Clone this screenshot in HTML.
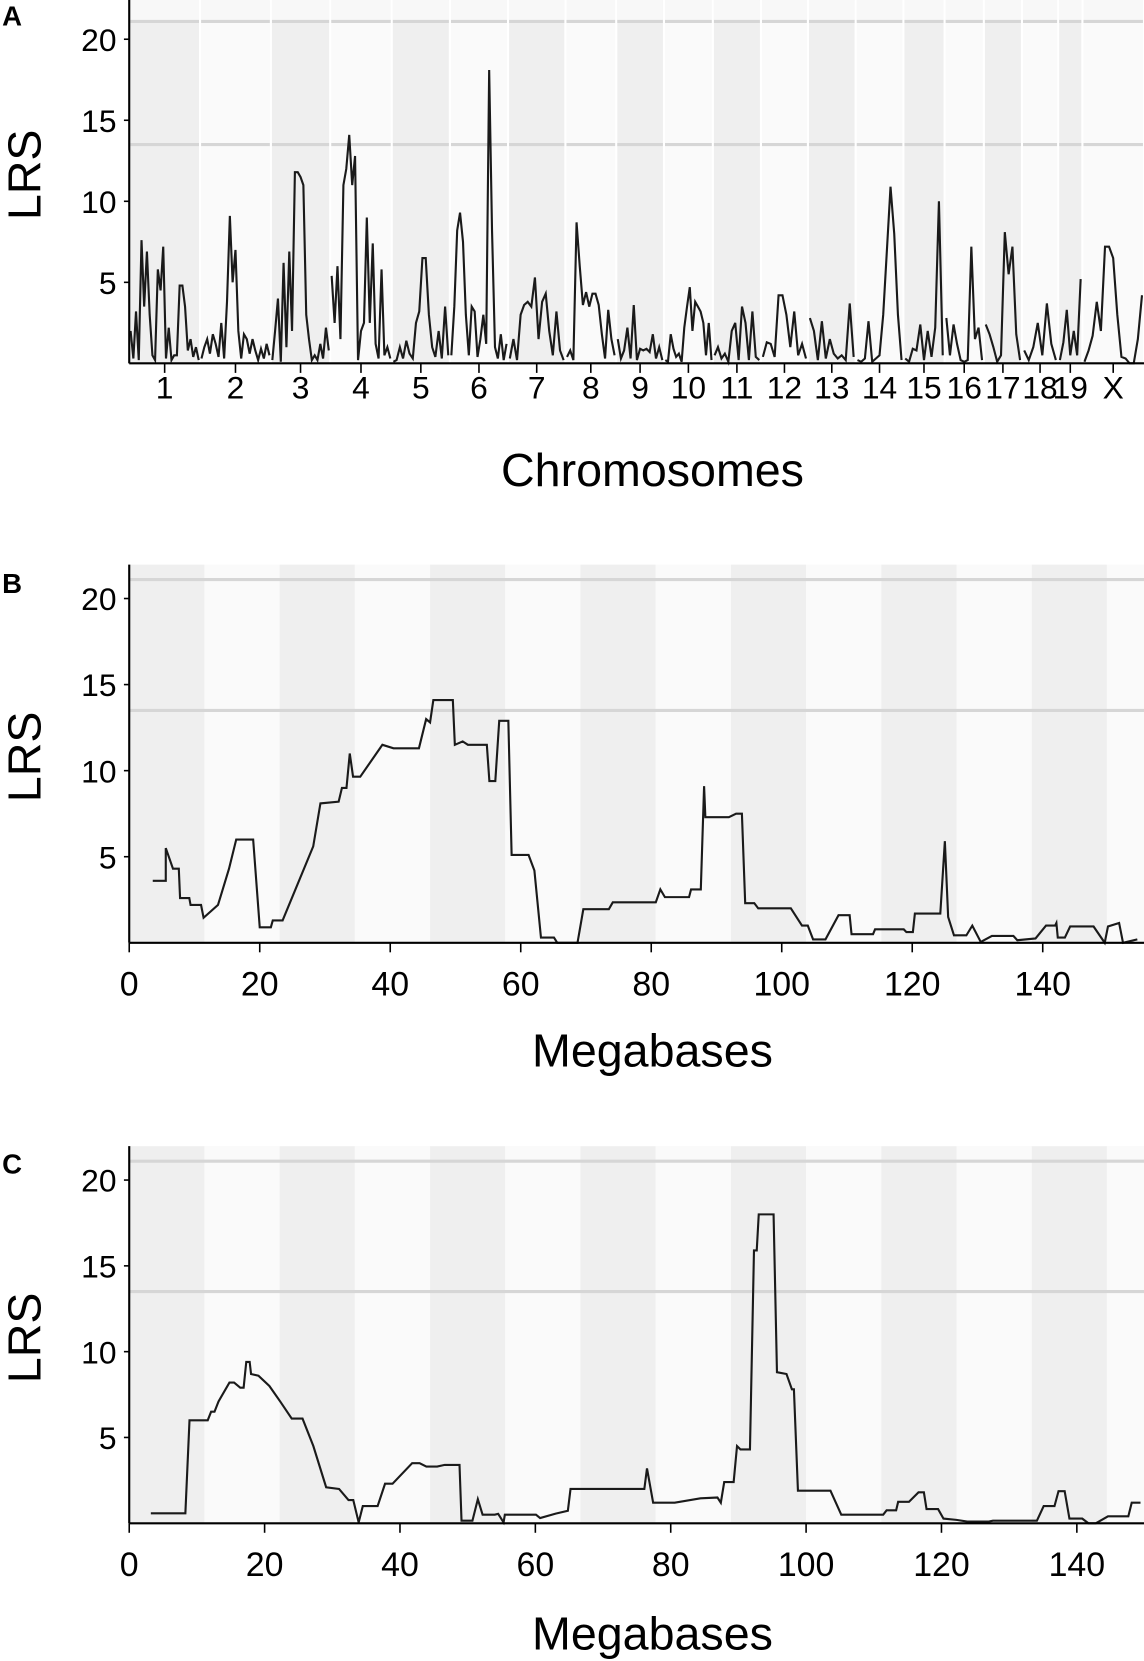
<!DOCTYPE html>
<html><head><meta charset="utf-8"><title>LRS scans</title>
<style>html,body{margin:0;padding:0;background:#fff;}svg{display:block;font-family:"Liberation Sans",Arial,sans-serif;}
.tk{font-family:"Liberation Sans Narrow","Liberation Sans",Arial,sans-serif;}</style>
</head><body>
<svg id="fig" width="1144" height="1661" viewBox="0 0 1080 1568" xmlns="http://www.w3.org/2000/svg"></svg>
<script>
// ---------- Panel A data ----------
const chrLabels = ["1","2","3","4","5","6","7","8","9","10","11","12","13","14","15","16","17","18","19","X"];
const chrLengths = [184,184,154,160,151,151,149,132,124,127,125,122,124,124,107,102,99,94,63,160];
const lrsA = [
 [2,0.3,3.2,0.2,7.6,3.5,6.9,3,0.5,0.2,5.8,4.5,7.2,0.3,2.2,0.2,0.5,0.5,4.8,4.8,3.5,0.8,1.5,0.4,1,0.2],
 [0.3,1,1.5,0.6,1.8,1.2,0.4,2.5,0.3,3.8,9.1,5,7,2,0.3,1.8,1.5,0.6,1.5,0.8,0.2,0.9,0.3,1.2,0.5],
 [0.2,2,4,0.1,6.2,1,6.9,2,11.8,11.8,11.5,11,3,1.5,0.2,0.5,0.2,1.2,0.3,2.2,0.8],
 [5.4,2.5,6,1.5,11,12,14.1,11,12.8,0.2,2,2.5,9,2.5,7.4,1.2,0.3,5.8,0.5,1,0.3],
 [0.1,0.2,1,0.3,1.4,0.6,0.3,2.5,3.2,6.5,6.5,3,1,0.4,2,0.3,3.5,0.5],
 [0.5,3.5,8.2,9.3,7.5,3,0.5,3.5,3.2,0.4,1.5,3,1.2,18.1,8.2,1,0.3,1.8,0.2,1.2],
 [0.3,1.5,0.2,3,3.6,3.8,3.5,5.3,1.5,3.8,4.3,2,0.5,3.2,0.8,0.2],
 [0.4,0.8,0.2,8.7,6,3.6,4.4,3.5,4.3,4.3,3.6,1.8,0.3,3.3,1.5,0.5],
 [1.5,0.3,0.8,2.2,0.3,3.6,0.2,0.9,0.8,0.9,0.7,1.8,0.3,1,0.2],
 [0.2,0.1,1.8,0.9,0.4,0.6,0.1,2.2,3.5,4.7,2,3.8,3.5,3.2,2.5,0.5,2.5,0.2],
 [0.5,1,0.3,0.6,0.1,2,2.5,0.2,3.5,2.5,0.2,3.2,0.4,0.2],
 [0.4,1.3,1.2,0.4,4.2,4.2,3,1,3.2,0.5,1.2,0.3],
 [2.8,2,0.2,2.6,0.3,1.5,0.6,0.3,0.5,0.2,3.7,0.4],
 [0.2,0.1,0.3,2.6,0.1,0.3,0.5,3,7,10.9,8,3,0.2],
 [0.3,0.1,0.9,0.8,2.4,0.2,2,0.4,2.2,10,0.5],
 [2.8,0.5,2.4,1.2,0.2,0.1,0.2,7.2,1.5,2.2,0.2],
 [2.4,1.8,1,0.1,0.5,8.1,5.5,7.2,1.8,0.2],
 [0.8,0.2,1,2.5,0.5,3.7,1.2,0.2],
 [0.2,1.3,3.3,0.5,2,0.5,5.2],
 [0.1,0.8,1.7,3.8,2,7.2,7.2,6.5,3,0.4,0.3,0,0,1.5,4.2]
];
// ---------- Panel B data ----------
const mbB = [3.6,5.6,5.6,6.7,7.6,7.8,9.2,9.4,11,11.4,13.6,15.3,16.4,19,20,21.7,22,23.5,28.2,29.3,32.1,32.6,33.3,33.8,34.3,35.4,38.8,40.5,44.4,45.5,46.1,46.6,49.6,49.9,51.1,51.9,54.8,55.2,56.1,56.7,58.1,58.6,61.2,62.1,63.1,65.1,65.6,68.7,69.6,73.5,74.1,80.7,81.4,82.1,85.8,86.1,87.6,88.1,88.3,91.9,93,93.9,94.4,95.8,96.4,101.4,103.1,104,104.8,106.7,108.7,110.4,110.7,114,114.3,118.7,119.1,120.1,120.4,124.3,125,125.5,126.4,128.3,129.2,130.5,132.2,135.5,136.1,138.9,140.5,141.9,142.1,142.3,143.4,144.2,147.8,149.5,150,151.7,152.3,154.5];
const lrsB = [3.6,3.6,5.5,4.3,4.3,2.6,2.6,2.2,2.2,1.45,2.2,4.3,6,6,0.9,0.9,1.3,1.3,5.6,8.1,8.2,9,9,11,9.65,9.65,11.5,11.3,11.3,13,12.8,14.1,14.1,11.5,11.7,11.5,11.5,9.4,9.4,12.9,12.9,5.1,5.1,4.2,0.3,0.3,0,0,1.95,1.95,2.35,2.35,3.1,2.65,2.65,3.1,3.1,9.1,7.3,7.3,7.5,7.5,2.3,2.3,2.0,2.0,1,1,0.2,0.2,1.6,1.6,0.5,0.5,0.78,0.78,0.62,0.62,1.7,1.7,5.9,1.5,0.43,0.43,1,0.05,0.4,0.4,0.15,0.25,1,1,1.15,0.3,0.3,0.95,0.95,0,0.95,1.15,0,0.2];
// ---------- Panel C data ----------
const mbC = [3.2,8.3,8.9,11.6,12.1,12.6,13.2,14.8,15.5,16.4,16.9,17.3,17.8,18,19.1,20.7,22.3,24,25.6,27.2,29.1,31,32.4,33.1,33.9,34.5,36.7,37.8,38.9,41.8,42.9,43.9,45.5,46.6,48.8,49.1,50.7,51.5,52.2,54,54.5,55.3,55.5,60.1,60.7,63,64.8,65.2,76.1,76.5,77.4,80.6,84.4,86.9,87.4,87.9,89.3,89.8,90.3,91.7,92.3,92.7,93,95.2,95.7,97.1,97.9,98.2,98.8,103.6,105.2,111.4,111.9,113.3,113.6,115.2,116.6,117.4,117.8,119.5,120.3,122.2,123.8,127,127.6,134.1,135.1,136.7,137.3,138.2,138.9,140.8,141.7,142.8,144.6,147.6,148.1,149.4];
const lrsC = [0.58,0.58,6,6,6.5,6.5,7.1,8.2,8.2,7.9,7.9,9.4,9.4,8.7,8.6,8,7.1,6.1,6.1,4.5,2.1,2,1.35,1.35,0.05,1,1,2.3,2.3,3.5,3.5,3.3,3.3,3.4,3.4,0.15,0.15,1.4,0.5,0.5,0.55,0.05,0.5,0.5,0.3,0.56,0.73,2,2,3.2,1.2,1.2,1.45,1.5,1.2,2.4,2.4,4.5,4.3,4.3,15.9,15.9,18,18,8.8,8.7,7.8,7.8,1.9,1.9,0.5,0.5,0.75,0.75,1.25,1.25,1.8,1.8,0.83,0.83,0.27,0.2,0.1,0.1,0.15,0.15,1,1,1.87,1.87,0.27,0.27,0,0,0.4,0.4,1.2,1.2];
const yTicks = [5,10,15,20];
const xTicksMb = [0,20,40,60,80,100,120,140];
const thresholds = [13.5,21.1];

const NS = "http://www.w3.org/2000/svg";
const svg = document.getElementById("fig");
function el(tag, attrs, parent, text){
  const e = document.createElementNS(NS, tag);
  for (const k in attrs) e.setAttribute(k, attrs[k]);
  if (text !== undefined) e.textContent = text;
  (parent||svg).appendChild(e);
  return e;
}
const DARK = "#efefef", LIGHT = "#fafafa", THR = "#d6d6d6";
const X0 = 122, X1 = 1080;

function yAxis(g, yScale, top, bottom){
  const ax = el("g", {}, g);
  
  
  el("line", {x1:X0, y1:top, x2:X0, y2:bottom, stroke:"#000", "stroke-width":2}, ax);
  yTicks.forEach(v=>{
    const y = yScale(v);
    el("line", {x1:X0-5, y1:y, x2:X0, y2:y, stroke:"#000", "stroke-width":1.5}, ax);
    const t = el("text", {x:X0-12, y:y+11, "text-anchor":"end", "font-size":30, class:"tk"}, ax, String(v));
    
    
  });
}
function titles(g, letter, letterY, lrsY, xTitle, xTitleY){
  const l = el("text", {x:2, y:letterY, "font-size":26, "font-weight":"bold"}, g, letter);
  
  
  const yt = el("text", {x:0, y:0, "font-size":44, "text-anchor":"middle", transform:`translate(38,${lrsY}) rotate(-90)`}, g, "LRS");
  
  
  const xt = el("text", {x:616, y:xTitleY, "font-size":44, "text-anchor":"middle"}, g, xTitle);
  
  
}

// ---------- Panel A ----------
(function(){
  const g = el("g", {});
  
  
  const top = 0, bottom = 343;
  const yScale = v => bottom - v * 15.3;
  const total = chrLengths.reduce((a,b)=>a+b,0);
  const xScale = mb => X0 + mb * (X1 - X0) / total;
  let cum = 0;
  const starts = chrLengths.map(l=>{const s=cum; cum+=l; return s;});
  chrLabels.forEach((c,i)=>{
    const xa = xScale(starts[i]), xb = xScale(starts[i]+chrLengths[i]);
    const r = el("rect", {x:xa+1, y:top, width:Math.max(0,xb-xa-2), height:bottom-top, fill: i%2===0?DARK:LIGHT}, g);
    
    
    el("rect", {x:xa+1, y:top, width:Math.max(0,xb-xa-2), height:yScale(21.1)-top, fill:"#f8f8f8"}, g);
  });
  thresholds.forEach(t=>{
    chrLabels.forEach((c,i)=>{
      const xa = xScale(starts[i]), xb = xScale(starts[i]+chrLengths[i]);
      const ln = el("line", {x1:xa+1, x2:xb-1, y1:yScale(t), y2:yScale(t), stroke:THR, "stroke-width":3}, g);
      
      
    });
  });
  let d = "";
  chrLabels.forEach((c,i)=>{
    const vals = lrsA[i], n = vals.length;
    vals.forEach((v,j)=>{
      const x = xScale(starts[i] + (j+0.5)/n*chrLengths[i]);
      d += (j===0?"M":"L") + x.toFixed(1) + "," + yScale(v).toFixed(1);
    });
  });
  const p = el("path", {d, fill:"none", stroke:"#1a1a1a", "stroke-width":2}, g);
  
  
  el("line", {x1:X0, y1:bottom, x2:X1, y2:bottom, stroke:"#000", "stroke-width":2}, g);
  chrLabels.forEach((c,i)=>{
    const x = xScale(starts[i] + chrLengths[i]/2);
    el("line", {x1:x, y1:bottom, x2:x, y2:bottom+9, stroke:"#000", "stroke-width":1.5}, g);
    const t = el("text", {x:x, y:bottom+33, "text-anchor":"middle", "font-size":30, class:"tk"}, g, c);
    
    
  });
  yAxis(g, yScale, top, bottom);
  titles(g, "A", 24, 165, "Chromosomes", 459);
})();

// ---------- Panels B, C ----------
function mbPanel(name, letter, mb, lrs, top, bottom, y20, pxPerMb, letterY, xTitleY){
  const g = el("g", {});
  
  
  const unit = (bottom - y20)/20;
  const yScale = v => bottom - v*unit;
  const xScale = m => X0 + m*pxPerMb;
  const bw = 71;
  for (let i=0, x=X0; x<X1; i++, x+=bw){
    const r = el("rect", {x:x, y:top, width:Math.min(bw, X1-x), height:bottom-top, fill:i%2===0?DARK:LIGHT}, g);
    
    
  }
  thresholds.forEach(t=>{
    const ln = el("line", {x1:X0, x2:X1, y1:yScale(t), y2:yScale(t), stroke:THR, "stroke-width":3}, g);
    
    
  });
  let d = "";
  mb.forEach((m,i)=>{ d += (i===0?"M":"L") + xScale(m).toFixed(1) + "," + yScale(lrs[i]).toFixed(1); });
  const p = el("path", {d, fill:"none", stroke:"#1a1a1a", "stroke-width":2}, g);
  
  
  el("line", {x1:X0, y1:bottom, x2:X1, y2:bottom, stroke:"#000", "stroke-width":2}, g);
  xTicksMb.forEach(v=>{
    const x = xScale(v);
    el("line", {x1:x, y1:bottom, x2:x, y2:bottom+9, stroke:"#000", "stroke-width":1.5}, g);
    const t = el("text", {x:x, y:bottom+50, "text-anchor":"middle", "font-size":32, class:"tk"}, g, String(v));
    
    
  });
  yAxis(g, yScale, top, bottom);
  titles(g, letter, letterY, (top+bottom)/2+3, "Megabases", xTitleY);
}
mbPanel("panel-b-chr4-scan", "B", mbB, lrsB, 533, 890, 565, 6.16, 560, 1007);
mbPanel("panel-c-chr6-scan", "C", mbC, lrsC, 1082, 1438, 1114, 6.39, 1108, 1557);
</script>
</body></html>
